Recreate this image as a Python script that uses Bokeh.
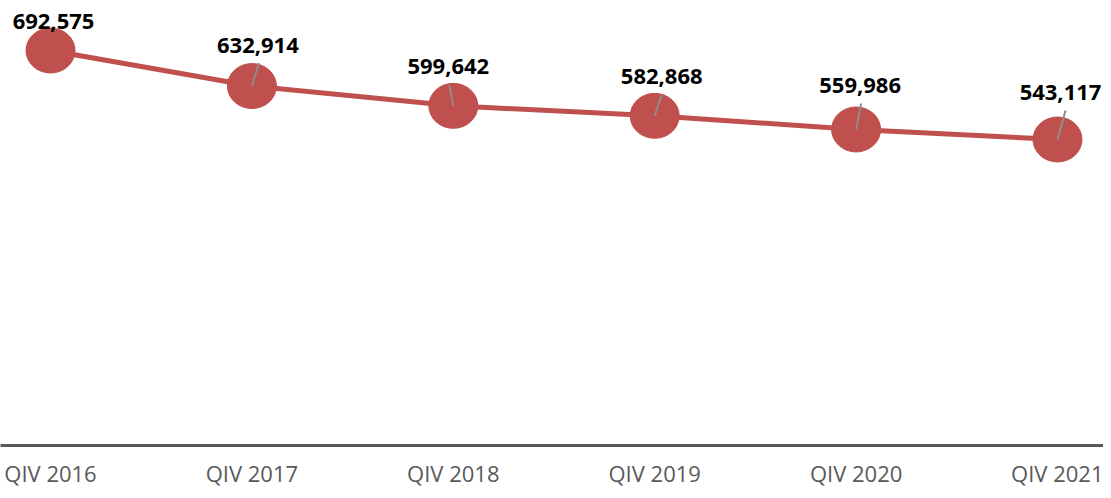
from bokeh.plotting import figure
from bokeh.models import Range1d, FixedTicker, ColumnDataSource
from bokeh.core.properties import value
from bokeh.embed import file_html
from bokeh.resources import INLINE

# ---- data ----
categories = ["QIV 2016", "QIV 2017", "QIV 2018", "QIV 2019", "QIV 2020", "QIV 2021"]
values = [692575, 632914, 599642, 582868, 559986, 543117]
label_texts = [f"{v:,}" for v in values]

# ---- style / layout ----
FRAME_W, FRAME_H = 1103, 445
first_px, spacing_px = 50.0, 201.4          # category 0 position and spacing in pixels
y_top, y_bot = 776540, 29250                # value range shown in the frame
ux = 1.0 / spacing_px                       # data units per pixel (x)
uy = (y_top - y_bot) / FRAME_H              # data units per pixel (y)

label_dx_px = [3, 6, -5, 7, 4, 3]
label_dy_px = [-29, -41, -39, -39, -44, -47]     # label position relative to marker centre
leader_dy_px = [-11, -23, -21, -21, -26, -29]    # leader end relative to marker centre
leader_dx_px = [3, 7, -4, 7, 5, 8]
show_leader = [False, True, True, True, True, True]

RED = "#C0504D"
GRAY = "#595959"

xs = list(range(len(categories)))
lab_x = [x + dx * ux for x, dx in zip(xs, label_dx_px)]
lab_y = [v - dy * uy for v, dy in zip(values, label_dy_px)]

p = figure(frame_width=FRAME_W, frame_height=FRAME_H, output_backend="svg", toolbar_location=None,
           x_range=Range1d(-first_px / spacing_px, (FRAME_W - first_px) / spacing_px),
           y_range=Range1d(y_bot, y_top),
           min_border_left=0, min_border_right=0, min_border_top=0,
           min_border_bottom=0, y_axis_location=None)
p.outline_line_color = None
p.xgrid.visible = False
p.ygrid.visible = False
p.background_fill_color = "white"
p.border_fill_color = "white"

p.line(xs, values, line_color=RED, line_width=5)
p.ellipse(xs, values, width=49, height=45, width_units="screen", height_units="screen",
          fill_color=RED, line_color=RED)

lx0, ly0, lx1, ly1 = [], [], [], []
for i, show in enumerate(show_leader):
    if show:
        lx0.append(xs[i]); ly0.append(values[i])
        lx1.append(xs[i] + leader_dx_px[i] * ux); ly1.append(values[i] - leader_dy_px[i] * uy)
p.segment(lx0, ly0, lx1, ly1, line_color="#8C8C8C", line_width=2)

src = ColumnDataSource(dict(x=lab_x, y=lab_y, t=label_texts))
p.text(x="x", y="y", text="t", source=src, text_font=value("Open Sans"),
       text_font_style="bold", text_font_size="22px", text_align="center",
       text_baseline="alphabetic", text_color="black")

ax = p.xaxis[0]
ax.ticker = FixedTicker(ticks=xs)
ax.major_label_overrides = {i: c for i, c in enumerate(categories)}
ax.axis_line_color = GRAY
ax.axis_line_width = 3
ax.major_tick_line_color = None
ax.minor_tick_line_color = None
ax.major_label_text_font = "Open Sans"
ax.major_label_text_font_size = "22px"
ax.major_label_text_color = GRAY
ax.major_label_standoff = 6

open("out.html", "w").write(file_html(p, INLINE))
